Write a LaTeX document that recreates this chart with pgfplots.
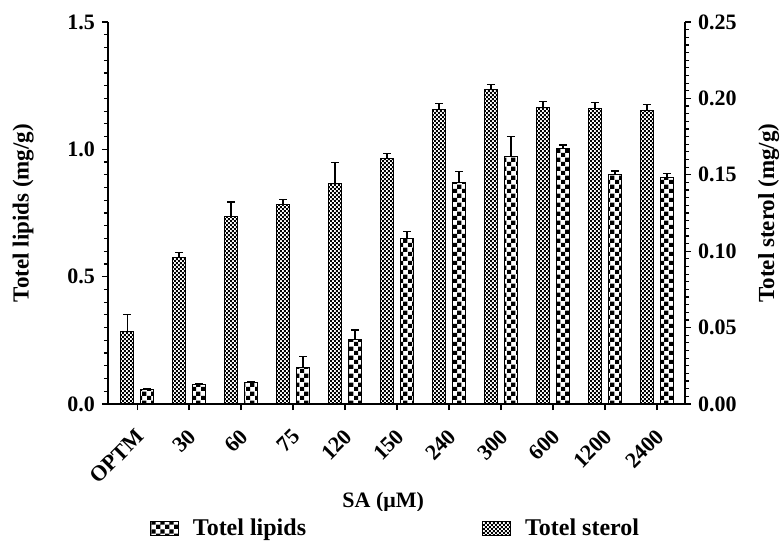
\documentclass[border=0pt]{standalone}
\usepackage{fontspec}
\setmainfont{Liberation Serif}
\usepackage{pgfplots}
\pgfplotsset{compat=1.18}
\usepackage{pgfplotstable}
\usetikzlibrary{patterns}

\pgfdeclarepatternformonly{coarsecheck}{\pgfpointorigin}{\pgfqpoint{4.6pt}{4.6pt}}{\pgfqpoint{4.6pt}{4.6pt}}{%
  \pgfpathrectangle{\pgfpointorigin}{\pgfqpoint{2.3pt}{2.3pt}}%
  \pgfpathrectangle{\pgfqpoint{2.3pt}{2.3pt}}{\pgfqpoint{2.3pt}{2.3pt}}%
  \pgfusepath{fill}}
\pgfdeclarepatternformonly{finecheck}{\pgfpointorigin}{\pgfqpoint{2.2pt}{2.2pt}}{\pgfqpoint{2.2pt}{2.2pt}}{%
  \pgfpathrectangle{\pgfpointorigin}{\pgfqpoint{1.1pt}{1.1pt}}%
  \pgfpathrectangle{\pgfqpoint{1.1pt}{1.1pt}}{\pgfqpoint{1.1pt}{1.1pt}}%
  \pgfusepath{fill}}

\pgfplotstableread{
x y e
0 0.285 0.065
1 0.575 0.020
2 0.735 0.058
3 0.785 0.018
4 0.865 0.082
5 0.965 0.018
6 1.158 0.022
7 1.235 0.021
8 1.165 0.023
9 1.162 0.022
10 1.154 0.022
}\finedata

\pgfplotstableread{
x y e
0 0.0098 0.0004
1 0.0130 0.0004
2 0.0144 0.0004
3 0.0240 0.0070
4 0.0420 0.0065
5 0.1080 0.0050
6 0.1450 0.0070
7 0.1620 0.0130
8 0.1670 0.0025
9 0.1500 0.0025
10 0.1485 0.0022
}\coarsedata

\pgfplotsset{
  common/.style={
    scale only axis, width=288.5pt, height=191pt,
    xmin=-0.56, xmax=10.54, ymin=0,
    ybar, bar width=6.5pt,
    tick align=outside, major tick length=3pt, minor tick length=2pt,
    axis line style={-, line width=0.7pt},
    every tick/.style={line width=0.6pt, black},
    /pgf/number format/assume math mode=true,
    ticklabel style={font=\fontsize{11}{12}\selectfont\bfseries},
    label style={font=\fontsize{11.5}{13}\selectfont\bfseries},
  },
  errs/.style={error bars/.cd, y dir=plus, y explicit,
    error mark options={rotate=90, mark size=2pt, line width=0.6pt, black},
    error bar style={line width=0.6pt, black}},
}

\begin{document}
\begin{tikzpicture}
\begin{axis}[common, name=L,
  axis y line*=left, axis x line*=bottom,
  ymax=1.5, ytick={0,0.5,1,1.5}, minor y tick num=9,
  yticklabel style={/pgf/number format/.cd, fixed, fixed zerofill, precision=1},
  xtick={0,1,2,3,4,5,6,7,8,9,10},
  xticklabels={OPTM,30,60,75,120,150,240,300,600,1200,2400},
  xticklabel style={yshift=-4pt, xshift=-1pt, rotate=45, anchor=north east},
  minor x tick num=0,
  xlabel={SA (μM)},
  xlabel style={font=\fontsize{11}{12}\selectfont\bfseries, at={(axis description cs:0.477,-0.2565)}, anchor=center},
  ylabel={Totel lipids (mg/g)},
  ylabel style={at={(axis description cs:-0.147,0.5)}, anchor=center, inner sep=0pt},
]
\addplot[draw=black, line width=0.5pt, pattern=finecheck, bar shift=-5pt, errs]
  table[x=x, y=y, y error=e] {\finedata};
\end{axis}
\begin{axis}[common,
  axis y line*=right, axis x line=none,
  ymax=0.25, ytick={0,0.05,0.10,0.15,0.20,0.25}, minor y tick num=9,
  yticklabel style={/pgf/number format/.cd, fixed, fixed zerofill, precision=2},
  ylabel={Totel sterol (mg/g)},
  ylabel style={at={(axis description cs:1.145,0.5)}, anchor=center, inner sep=0pt},
  legend columns=2,
  legend style={at={(axis description cs:0.5,-0.327)}, anchor=center, draw=none,
    font=\fontsize{12}{13}\selectfont\bfseries,
    /tikz/every odd column/.append style={column sep=5pt},
    /tikz/every even column/.append style={column sep=86pt}},
  legend image code/.code={\draw[#1, line width=0.5pt] (0pt,-3.5pt) rectangle (14pt,3.5pt);},
]
\addplot[draw=black, line width=0.5pt, pattern=coarsecheck, bar shift=5pt, errs]
  table[x=x, y=y, y error=e] {\coarsedata};
\addlegendentry{Totel lipids}
\addlegendimage{draw=black, line width=0.5pt, pattern=finecheck}
\addlegendentry{Totel sterol}
\end{axis}
\path (L.south west) ++(-54pt,-67.5pt);
\path (L.north east) ++(48pt,11pt);
\end{tikzpicture}
\end{document}
